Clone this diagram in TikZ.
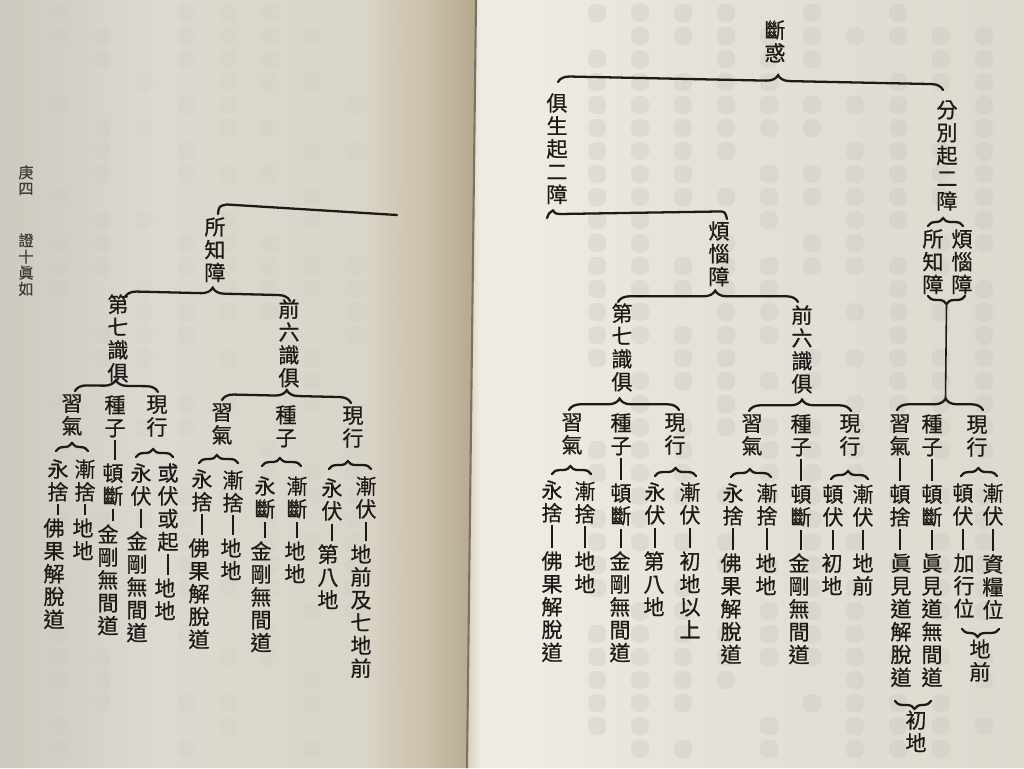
\documentclass[tikz,border=0pt]{standalone}
\usepackage{fontspec}
\newfontfamily\cjk[FakeBold=0.7]{Noto Sans CJK TC}
\usetikzlibrary{decorations.pathreplacing}

\definecolor{ink}{HTML}{1E1A17}
\definecolor{lp0}{HTML}{CDC9BF}
\definecolor{lp1}{HTML}{DCD9D0}
\definecolor{lp2}{HTML}{DAD5C9}
\definecolor{lp3}{HTML}{CCC1AA}
\definecolor{lp4}{HTML}{B5A88E}
\definecolor{rp0}{HTML}{D6CEBD}
\definecolor{rp1}{HTML}{F1ECE3}
\definecolor{rp2}{HTML}{F0ECE3}
\definecolor{rp3}{HTML}{E6E2D9}
\definecolor{rp4}{HTML}{DDD9CF}
\definecolor{gutter}{HTML}{7D7262}
\definecolor{ghostR}{HTML}{CFCAC1}
\definecolor{ghostL}{HTML}{CBC7BD}

\pgfdeclarehorizontalshading{leftpg}{100bp}{color(0bp)=(lp0); color(25bp)=(lp0); color(41bp)=(lp1); color(63bp)=(lp2); color(69.7bp)=(lp3); color(75bp)=(lp4); color(100bp)=(lp4)}
\pgfdeclarehorizontalshading{rightpg}{100bp}{color(0bp)=(rp0); color(25bp)=(rp0); color(26.2bp)=(rp1); color(30bp)=(rp2); color(45bp)=(rp3); color(75bp)=(rp4); color(100bp)=(rp4)}

% stack the characters of #1 one under another
\makeatletter
\def\vtext#1{\vt@i#1\@nil}
\def\vt@i#1#2\@nil{#1\ifx\relax#2\relax\expandafter\@gobble\else\expandafter\@firstofone\fi{\\\vt@i#2\@nil}}
\makeatother

\tikzset{
  col/.style={anchor=north, inner sep=0pt, align=center, text=ink,
    font=\cjk\fontsize{12pt}{13pt}\selectfont},
  margintext/.style={anchor=north, inner sep=0pt, align=center, text=ink!85,
    font=\cjk\fontsize{8.6pt}{9.2pt}\selectfont},
  ln/.style={draw=ink, line width=0.9pt, shorten <=1.5pt, shorten >=1.5pt},
  brc/.style={draw=ink, line width=1.3pt, line cap=round, decorate,
    decoration={brace, amplitude=6.5pt, aspect=#1}},
  sbrc/.style={brc=#1, decoration={amplitude=4.5pt}},
  bline/.style={draw=ink, line width=1.3pt, line cap=round},
}

\begin{document}
\begin{tikzpicture}[x=0.02cm, y=-0.02cm]
\useasboundingbox (0,0) rectangle (1024,768);

% ---- the open book ----
\shade[shading=leftpg] (0,0) -- (476,0) -- (467,768) -- (0,768) -- cycle;
\shade[shading=rightpg] (476,0) -- (1024,0) -- (1024,768) -- (467,768) -- cycle;
\draw[gutter, line width=1.2pt] (476,0) -- (467,768);

% show-through from the reverse of each leaf
\pgfmathsetseed{11}
\foreach \k in {0,...,9}{
  \foreach \j in {0,...,32}{
    \pgfmathsetmacro\r{rnd}
    \ifdim\r pt<0.7pt
      \fill[ghostR, opacity=0.4, rounded corners=4] ({597+43*\k-9},{4+23*\j}) rectangle +(18,18);
    \fi
  }
}
\foreach \k in {0,...,8}{
  \foreach \j in {0,...,32}{
    \pgfmathsetmacro\r{rnd}
    \ifdim\r pt<0.5pt
      \fill[ghostL, opacity=0.16, rounded corners=4] ({60+42*\k-9},{4+23*\j}) rectangle +(18,18);
    \fi
  }
}

% ---- running heads in the left margin ----
\node[margintext] (hd1) at (26,165) {\vtext{庚四}};
\node[margintext] (hd2) at (26,233) {\vtext{證十眞如}};

% ================= right page =================
\node[col] (root) at (775,20) {\vtext{斷惑}};
\node[col] (jsq) at (557,93) {\vtext{俱生起二障}};
\node[col] (fbq) at (947,100) {\vtext{分別起二障}};

\coordinate (b1l) at (558,82);
\coordinate (b1r) at (943,90);
\draw[brc=0.571] (b1l) -- (b1r);

% 俱生起二障: brace runs on across the gutter
\coordinate (b2l) at (547,218);
\coordinate (b2r) at (727,219);
\draw[bline] (b2l) .. controls (549,213) .. (553,210.5)
  .. controls (555,213.5) .. (560,214) -- (718,211.5)
  .. controls (725,211.5) .. (b2r);

\node[col] (fn) at (719,221) {\vtext{煩惱障}};

% 分別起二障
\coordinate (b4l) at (928,226);
\coordinate (b4r) at (963,226);
\draw[sbrc=0.43] (b4l) -- (b4r);
\node[col] (fsz) at (933,229) {\vtext{所知障}};
\node[col] (ffn) at (962,229) {\vtext{煩惱障}};
\coordinate (b5r) at (965,296);
\coordinate (b5l) at (928,296);
\draw[sbrc=0.5] (b5r) -- (b5l);
\coordinate (b5t) at (946.5,304);
\coordinate (b6t) at (945.5,398);
\draw[ln, shorten <=0pt, shorten >=0pt] (b5t) -- (b6t);
\coordinate (b6l) at (897,410);
\coordinate (b6r) at (983,410);
\draw[brc=0.565] (b6l) -- (b6r);

% 煩惱障 (俱生起)
\coordinate (b3l) at (618,302);
\coordinate (b3r) at (798,302);
\draw[brc=0.54] (b3l) -- (b3r);
\node[col] (d7) at (622,303) {\vtext{第七識俱}};
\node[col] (q6) at (802,305) {\vtext{前六識俱}};

\coordinate (b7l) at (569,410);
\coordinate (b7r) at (679,410);
\draw[brc=0.46] (b7l) -- (b7r);
\coordinate (b8l) at (749,411);
\coordinate (b8r) at (851,411);
\draw[brc=0.52] (b8l) -- (b8r);

\node[col] (r7x) at (572,413) {\vtext{習氣}};
\node[col] (r7z) at (621,413) {\vtext{種子}};
\node[col] (r7h) at (675,413) {\vtext{現行}};
\node[col] (r6x) at (752,414) {\vtext{習氣}};
\node[col] (r6z) at (801,414) {\vtext{種子}};
\node[col] (r6h) at (850,414) {\vtext{現行}};
\node[col] (rfx) at (900,414) {\vtext{習氣}};
\node[col] (rfz) at (932,414) {\vtext{種子}};
\node[col] (rfh) at (977,415) {\vtext{現行}};

\coordinate (b9l) at (552,474);
\coordinate (b9r) at (591,474);
\draw[sbrc=0.47] (b9l) -- (b9r);
\coordinate (b10l) at (655,476);
\coordinate (b10r) at (696,476);
\draw[sbrc=0.5] (b10l) -- (b10r);
\coordinate (b11l) at (731,477);
\coordinate (b11r) at (771,477);
\draw[sbrc=0.47] (b11l) -- (b11r);
\coordinate (b12l) at (831,479);
\coordinate (b12r) at (868,479);
\draw[sbrc=0.46] (b12l) -- (b12r);
\coordinate (b13l) at (961,476);
\coordinate (b13r) at (997,476);
\draw[sbrc=0.48] (b13l) -- (b13r);

\node[col] (r7x1) at (552,480) {\vtext{永捨}};
\node[col] (r7x2) at (585,481) {\vtext{漸捨}};
\node[col] (r7z1) at (621,483) {\vtext{頓斷}};
\node[col] (r7h1) at (655,482) {\vtext{永伏}};
\node[col] (r7h2) at (690,482) {\vtext{漸伏}};
\node[col] (r6x1) at (733,483) {\vtext{永捨}};
\node[col] (r6x2) at (767,483) {\vtext{漸捨}};
\node[col] (r6z1) at (801,484) {\vtext{頓斷}};
\node[col] (r6h1) at (833,484) {\vtext{頓伏}};
\node[col] (r6h2) at (863,484) {\vtext{漸伏}};
\node[col] (rfx1) at (900,484) {\vtext{頓捨}};
\node[col] (rfz1) at (932,484) {\vtext{頓斷}};
\node[col] (rfh1) at (963,483) {\vtext{頓伏}};
\node[col] (rfh2) at (993,483) {\vtext{漸伏}};

\node[col] (r7x1e) at (552,551) {\vtext{佛果解脫道}};
\node[col] (r7x2e) at (585,551) {\vtext{地地}};
\node[col] (r7z1e) at (620,551) {\vtext{金剛無間道}};
\node[col] (r7h1e) at (654,551) {\vtext{第八地}};
\node[col] (r7h2e) at (690,551) {\vtext{初地以上}};
\node[col] (r6x1e) at (731,553) {\vtext{佛果解脫道}};
\node[col] (r6x2e) at (766,553) {\vtext{地地}};
\node[col] (r6z1e) at (799,553) {\vtext{金剛無間道}};
\node[col] (r6h1e) at (832,553) {\vtext{初地}};
\node[col] (r6h2e) at (863,553) {\vtext{地前}};
\node[col] (rfx1e) at (901,553) {\vtext{眞見道解脫道}};
\node[col] (rfz1e) at (932,553) {\vtext{眞見道無間道}};
\node[col] (rfh1e) at (964,553) {\vtext{加行位}};
\node[col] (rfh2e) at (993,554) {\vtext{資糧位}};

\coordinate (b14r) at (999,629);
\coordinate (b14l) at (962,629);
\draw[sbrc=0.58] (b14r) -- (b14l);
\node[col] (dq) at (980,639) {\vtext{地前}};
\coordinate (b15r) at (931,701);
\coordinate (b15l) at (895,701);
\draw[sbrc=0.46] (b15r) -- (b15l);
\node[col] (cd) at (916,710) {\vtext{初地}};

\foreach \a/\b in {r7z/r7z1, r7z1/r7z1e, r7x1/r7x1e, r7x2/r7x2e, r7h1/r7h1e, r7h2/r7h2e,
  r6z/r6z1, r6z1/r6z1e, r6x1/r6x1e, r6x2/r6x2e, r6h1/r6h1e, r6h2/r6h2e,
  rfx/rfx1, rfx1/rfx1e, rfz/rfz1, rfz1/rfz1e, rfh1/rfh1e, rfh2/rfh2e}
  \draw[ln] (\a.south) -- (\a.south |- \b.north);

% ================= left page =================
\coordinate (l0l) at (218,214);
\coordinate (l0r) at (397,215);
\draw[bline] (l0l) .. controls (219,206) .. (227,204.5) -- (l0r);
\node[col] (lsz) at (215,217) {\vtext{所知障}};

\coordinate (l1l) at (125,297);
\coordinate (l1r) at (290,301);
\draw[brc=0.53] (l1l) -- (l1r);
\node[col] (l7) at (118,294) {\vtext{第七識俱}};
\node[col] (l6) at (289,299) {\vtext{前六識俱}};

\coordinate (l2l) at (75,391);
\coordinate (l2r) at (158,392);
\draw[brc=0.49] (l2l) -- (l2r);
\coordinate (l3l) at (222,400);
\coordinate (l3r) at (351,403);
\draw[brc=0.5] (l3l) -- (l3r);

\node[col] (l7x) at (72,394) {\vtext{習氣}};
\node[col] (l7z) at (115,395) {\vtext{種子}};
\node[col] (l7h) at (157,395) {\vtext{現行}};
\node[col] (l6x) at (222,403) {\vtext{習氣}};
\node[col] (l6z) at (286,405) {\vtext{種子}};
\node[col] (l6h) at (353,406) {\vtext{現行}};

\coordinate (l4l) at (56,451);
\coordinate (l4r) at (88,451);
\draw[sbrc=0.5] (l4l) -- (l4r);
\coordinate (l5l) at (136,457);
\coordinate (l5r) at (173,457);
\draw[sbrc=0.46] (l5l) -- (l5r);
\coordinate (l6l) at (199,463);
\coordinate (l6r) at (238,463);
\draw[sbrc=0.46] (l6l) -- (l6r);
\coordinate (l7l) at (262,466);
\coordinate (l7r) at (301,466);
\draw[sbrc=0.46] (l7l) -- (l7r);
\coordinate (l8l) at (329,469);
\coordinate (l8r) at (371,469);
\draw[sbrc=0.45] (l8l) -- (l8r);

\node[col] (l7x1) at (58,459) {\vtext{永捨}};
\node[col] (l7x2) at (85,459) {\vtext{漸捨}};
\node[col] (l7z1) at (113,463) {\vtext{頓斷}};
\node[col] (l7h1) at (141,463) {\vtext{永伏}};
\node[col] (l7h2) at (168,463) {\vtext{或伏或起}};
\node[col] (l6x1) at (202,469) {\vtext{永捨}};
\node[col] (l6x2) at (233,470) {\vtext{漸捨}};
\node[col] (l6z1) at (265,476) {\vtext{永斷}};
\node[col] (l6z2) at (297,476) {\vtext{漸斷}};
\node[col] (l6h1) at (332,478) {\vtext{永伏}};
\node[col] (l6h2) at (366,476) {\vtext{漸伏}};

\node[col] (l7x1e) at (54,518) {\vtext{佛果解脫道}};
\node[col] (l7x2e) at (83,518) {\vtext{地地}};
\node[col] (l7z1e) at (108,524) {\vtext{金剛無間道}};
\node[col] (l7h1e) at (137,531) {\vtext{金剛無間道}};
\node[col] (l7h2e) at (165,578) {\vtext{地地}};
\node[col] (l6x1e) at (199,538) {\vtext{佛果解脫道}};
\node[col] (l6x2e) at (231,538) {\vtext{地地}};
\node[col] (l6z1e) at (261,541) {\vtext{金剛無間道}};
\node[col] (l6z2e) at (295,541) {\vtext{地地}};
\node[col] (l6h1e) at (328,544) {\vtext{第八地}};
\node[col] (l6h2e) at (361,544) {\vtext{地前及七地前}};

\foreach \a/\b in {l7z/l7z1, l7z1/l7z1e, l7x1/l7x1e, l7x2/l7x2e, l7h1/l7h1e, l7h2/l7h2e,
  l6x1/l6x1e, l6x2/l6x2e, l6z1/l6z1e, l6z2/l6z2e, l6h1/l6h1e, l6h2/l6h2e}
  \draw[ln] (\a.south) -- (\a.south |- \b.north);

\end{tikzpicture}
\end{document}
